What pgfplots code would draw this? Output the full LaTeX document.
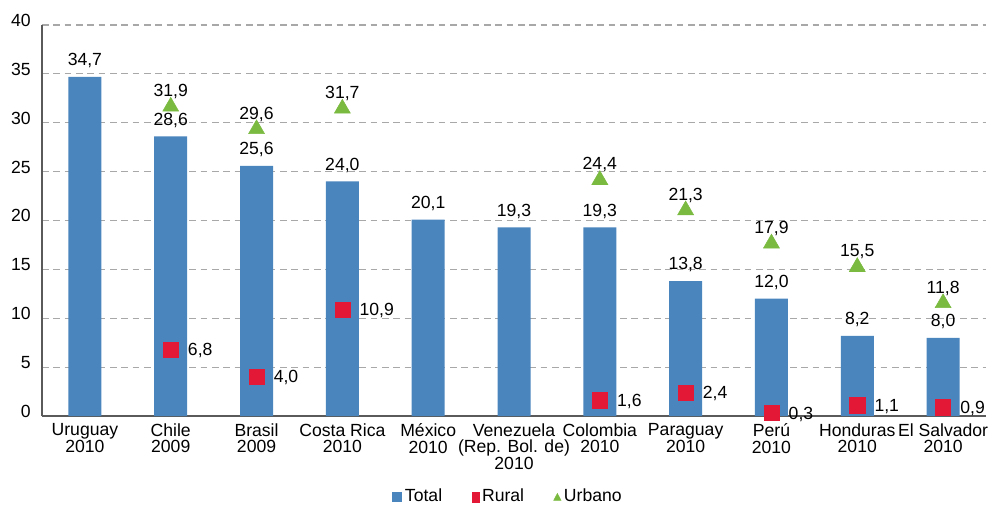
\documentclass[border=0pt]{standalone}
\usepackage{fontspec}
\setmainfont{Liberation Sans}
\usepackage{pgfplots}
\pgfplotsset{compat=1.18}
\definecolor{barblue}{RGB}{74,134,189}
\definecolor{rred}{RGB}{227,24,55}
\definecolor{ugreen}{RGB}{122,186,64}
\definecolor{gridgray}{RGB}{168,168,168}
\definecolor{axisgray}{RGB}{90,90,90}
\newcommand{\cfont}{\fontsize{13.2}{12.4}\selectfont}
\begin{document}
\cfont
\begin{tikzpicture}
\path[use as bounding box] (-31.5pt,-70.5pt) rectangle (714pt,312pt);
\begin{axis}[
  at={(0,0)}, anchor=south west,
  scale only axis, width=708pt, height=293.25pt,
  xmin=-0.5, xmax=10.5, ymin=0, ymax=40,
  clip=false,
  axis x line*=bottom, axis y line*=left,
  axis line style={axisgray, line width=1.5pt, -},
  ytick={0,5,...,40},
  xtick={0,...,10},
  xticklabels={{Uruguay\\2010},{Chile\\2009},{Brasil\\2009},{Costa Rica\\2010},{México\\2010},{Venezuela\\(Rep. Bol. de)\\2010},{Colombia\\2010},{Paraguay\\2010},{Perú\\2010},{Honduras\\2010},{El Salvador\\2010}},
  major tick length=0pt,
  ymajorgrids,
  grid style={gridgray, line width=0.8pt, dash pattern=on 5pt off 3.5pt},
  /pgf/number format/assume math mode=true,
  tick label style={font=\cfont, text=black},
  xticklabel style={align=center, anchor=north, yshift=-5.5pt, inner sep=0pt},
  yticklabel style={anchor=east, xshift=-8.25pt, yshift=3.5pt, inner sep=0pt},
  legend style={at={(0.494,-0.207)}, anchor=center, draw=none, fill=none,
    font=\cfont, legend columns=3,
    /tikz/every even column/.append style={column sep=20pt}},
  legend cell align=left,
]
\addplot[ybar, bar width=24.75pt, bar shift=0pt, fill=barblue, draw=none,
  nodes near coords={\pgfmathprintnumber[use comma,fixed,fixed zerofill,precision=1,assume math mode=true]{\pgfplotspointmeta}},
  every node near coord/.append style={anchor=base, yshift=8.5pt, inner sep=0pt, text=black, font=\cfont},
  legend image code/.code={\fill[barblue] (-2pt,-3.75pt) rectangle (5.5pt,3.75pt);}]
  coordinates {(0,34.7) (1,28.6) (2,25.6) (3,24.0) (4,20.1) (5,19.3) (6,19.3) (7,13.8) (8,12.0) (9,8.2) (10,8.0)};
\addlegendentry{Total}
\addplot[only marks, mark=square*, mark size=5.7pt, color=rred,
  nodes near coords={\pgfmathprintnumber[use comma,fixed,fixed zerofill,precision=1,assume math mode=true]{\pgfplotspointmeta}},
  every node near coord/.append style={anchor=base west, xshift=12.75pt, yshift=-4.5pt, inner sep=0pt, text=black, font=\cfont},
  legend image code/.code={\fill[rred] (0pt,-3.75pt) rectangle (5.5pt,3.75pt);}]
  coordinates {(1,6.8) (2,4.0) (3,10.9) (6,1.6) (7,2.4) (8,0.3) (9,1.1) (10,0.9)};
\addlegendentry{Rural}
\addplot[only marks, mark=triangle*, mark size=6.9pt, color=ugreen,
  mark options={yshift=-1.8pt},
  nodes near coords={\pgfmathprintnumber[use comma,fixed,fixed zerofill,precision=1,assume math mode=true]{\pgfplotspointmeta}},
  every node near coord/.append style={anchor=base, yshift=7.5pt, inner sep=0pt, text=black, font=\cfont},
  legend image code/.code={\fill[ugreen] (0pt,-2.6pt) -- (5.5pt,-2.6pt) -- (2.75pt,2.6pt) -- cycle;}]
  coordinates {(1,31.9) (2,29.6) (3,31.7) (6,24.4) (7,21.3) (8,17.9) (9,15.5) (10,11.8)};
\addlegendentry{Urbano}
\end{axis}
\end{tikzpicture}
\end{document}
